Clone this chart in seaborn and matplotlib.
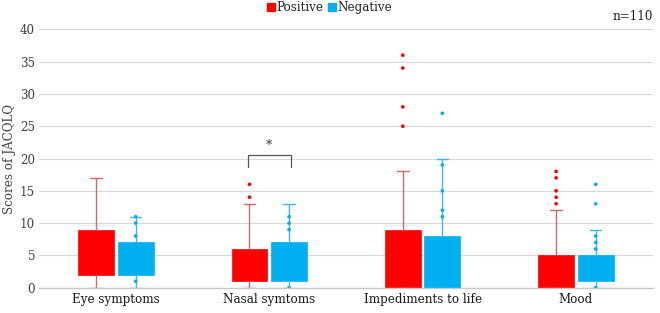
import numpy as np
import pandas as pd
import matplotlib
matplotlib.use("Agg")
import matplotlib.pyplot as plt
import seaborn as sns
from matplotlib.lines import Line2D

# ---------------- data ----------------
categories = ["Eye symptoms", "Nasal symtoms", "Impediments to life", "Mood"]
groups = ["Positive", "Negative"]

pos_q1 = [2, 1, 0, 0]
pos_q3 = [9, 6, 9, 5]
pos_whislo = [0, 0, 0, 0]
pos_whishi = [17, 13, 18, 12]
pos_points = [[], [14, 16], [25, 28, 34, 36], [13, 14, 15, 17, 18]]

neg_q1 = [2, 1, 0, 1]
neg_q3 = [7, 7, 8, 5]
neg_whislo = [0, 0, 0, 0]
neg_whishi = [11, 13, 20, 9]
neg_points = [[1, 8, 10, 11], [0, 9, 10, 11], [0, 11, 12, 15, 19, 27],
              [0, 6, 7, 8, 13, 16]]

yticks = [0, 5, 10, 15, 20, 25, 30, 35, 40]

# ---------------- style ----------------
sns.set_theme(style="white")
plt.rcParams["font.family"] = ["DejaVu Serif"]
plt.rcParams["font.size"] = 8.6

fill = {"Positive": "#FF0000", "Negative": "#00B0F0"}
wcol = {"Positive": "#D06868", "Negative": "#40B8E6"}
offset = {"Positive": -0.129, "Negative": 0.129}
box_w = 0.234

fig = plt.figure(figsize=(6.6, 3.13), dpi=100)
ax = fig.add_axes([0.0595, 0.0808, 0.9293, 0.8256])

stats = {"Positive": (pos_q1, pos_q3, pos_whislo, pos_whishi),
         "Negative": (neg_q1, neg_q3, neg_whislo, neg_whishi)}

for g in groups:
    q1s, q3s, los, his = stats[g]
    bxs = []
    for i in range(len(categories)):
        bxs.append(dict(q1=q1s[i], q3=q3s[i], med=q1s[i],
                        whislo=los[i], whishi=his[i], fliers=[]))
    positions = [i + offset[g] for i in range(len(categories))]
    ax.bxp(bxs, positions=positions, widths=box_w, showfliers=False,
           patch_artist=True, manage_ticks=False,
           boxprops=dict(facecolor=fill[g], edgecolor=fill[g], linewidth=0.5),
           medianprops=dict(linewidth=0),
           whiskerprops=dict(color=wcol[g], linewidth=1.0),
           capprops=dict(color=wcol[g], linewidth=1.0),
           capwidths=0.075, zorder=3)

# points (outliers and inner points)
rows = []
for g, pts in (("Positive", pos_points), ("Negative", neg_points)):
    for i, vals in enumerate(pts):
        for v in vals:
            rows.append({"pos": i + offset[g], "val": v, "group": g})
df = pd.DataFrame(rows)
sns.scatterplot(data=df, x="pos", y="val", hue="group", palette=fill,
                s=7, linewidth=0, legend=False, ax=ax, zorder=4)

# significance bracket
bx0, bx1 = 1 - 0.14, 1 + 0.14
ax.plot([bx0, bx0, bx1, bx1], [18.7, 20.6, 20.6, 18.7], color="#555555",
        lw=0.9, zorder=5)
ax.text(1, 21.0, "*", ha="center", va="bottom", fontsize=9, color="#333333")

ax.set_xlim(-0.5, 3.5)
ax.set_ylim(0, 40)
ax.set_yticks(yticks)
ax.set_xticks(range(len(categories)))
ax.set_xticklabels(categories)
ax.set_xlabel("")
ax.set_ylabel("Scores of JACQLQ", fontsize=8.6, color="#404040", va="center")
ax.yaxis.set_label_coords(-0.049, 0.5)
ax.yaxis.grid(True, color="#D9D9D9", linewidth=0.8)
ax.set_axisbelow(True)
for s in ["top", "right", "left"]:
    ax.spines[s].set_visible(False)
ax.spines["bottom"].set_color("#C8C8C8")
ax.spines["bottom"].set_linewidth(1.0)
ax.spines["bottom"].set_zorder(6)
ax.tick_params(axis="both", length=0, labelsize=8.6, colors="#404040", pad=3)
ax.tick_params(axis="x", labelcolor="#1a1a1a", pad=4)

handles = [Line2D([], [], marker="s", linestyle="", markersize=6,
                  markerfacecolor=fill[g], markeredgecolor=fill[g]) for g in groups]
fig.legend(handles, groups, loc="upper center", bbox_to_anchor=(0.5, 1.03),
           ncol=2, frameon=False, handlelength=0.6, handletextpad=0.15,
           columnspacing=0.4, fontsize=8.6)
fig.text(0.989, 0.925, "n=110", ha="right", va="bottom", fontsize=8.6,
         color="#1a1a1a")

fig.savefig("out.png", dpi=100)
